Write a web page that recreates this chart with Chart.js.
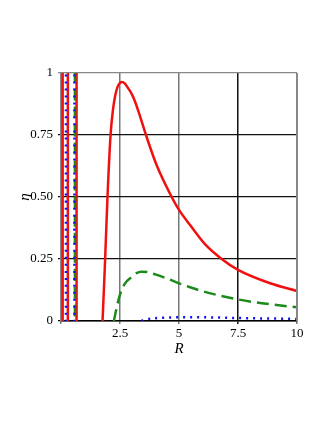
<!DOCTYPE html>
<html><head><meta charset="utf-8">
<script src="https://cdn.jsdelivr.net/npm/chart.js@4"></script>
<style>html,body{margin:0;padding:0;background:#fff}#wrap{width:327px;height:423px}</style>
</head><body><div id="wrap"><canvas id="c" width="327" height="423"></canvas></div>
<script>
const xTickLabels = {2.5:'2.5', 5:'5', 7.5:'7.5', 10:'10'};
const yTickLabels = {0:'0', 0.25:'0.25', 0.5:'0.50', 0.75:'0.75', 1:'1'};
const redX = [1.76, 1.85, 1.97, 2.1, 2.2, 2.3, 2.4, 2.5, 2.58, 2.7, 2.85, 3.0, 3.14, 3.35, 3.6, 4.05, 4.69, 5.0, 5.47, 6.1, 6.81, 7.5, 8.86, 10.0];
const redY = [0, 0.2, 0.5, 0.75, 0.85, 0.91, 0.945, 0.96, 0.964, 0.958, 0.938, 0.915, 0.884, 0.825, 0.75, 0.629, 0.5, 0.448, 0.387, 0.31, 0.25, 0.206, 0.152, 0.121];
const greenX = [2.24, 2.35, 2.48, 2.7, 3.0, 3.2, 3.4, 3.7, 4.0, 4.5, 5.0, 5.5, 6.0, 6.75, 7.5, 8.25, 9.0, 10.0];
const greenY = [0, 0.05, 0.1, 0.15, 0.178, 0.193, 0.199, 0.197, 0.188, 0.171, 0.152, 0.135, 0.12, 0.102, 0.087, 0.075, 0.066, 0.055];
const blueX = [3.41, 3.6, 4.0, 4.5, 5.0, 6.0, 7.0, 8.0, 9.0, 10.0];
const blueY = [0, 0.006, 0.011, 0.014, 0.015, 0.015, 0.013, 0.011, 0.01, 0.008];
const redSpikeX = [0.07, 0.29, 0.66];
const greenSpikeX = [0.59];
const blueSpikeX = [0.21, 0.57];

const pts = (xs, ys) => xs.map((x, i) => ({x, y: ys[i]}));
const spike = x => [{x, y: -0.2}, {x, y: 1.2}];
const base = {showLine: true, pointRadius: 0, fill: false, tension: 0.4, cubicInterpolationMode: 'monotone'};
const datasets = [];
blueSpikeX.forEach(x => datasets.push({...base, data: spike(x), borderColor: '#1010ee', borderWidth: 2.5, borderDash: [2, 5], tension: 0}));
greenSpikeX.forEach(x => datasets.push({...base, data: spike(x), borderColor: '#1a8a1a', borderWidth: 2.5, borderDash: [12, 6], tension: 0}));
redSpikeX.forEach(x => datasets.push({...base, data: spike(x), borderColor: '#f01010', borderWidth: 2.5, tension: 0}));
datasets.push({...base, data: pts(blueX, blueY), borderColor: '#1010ee', borderWidth: 2.5, borderDash: [2, 5]});
datasets.push({...base, data: pts(greenX, greenY), borderColor: '#1a8a1a', borderWidth: 2.5, borderDash: [12, 6]});
datasets.push({...base, data: pts(redX, redY), borderColor: '#f01010', borderWidth: 2.5});

new Chart(document.getElementById('c'), {
  type: 'scatter',
  data: {datasets},
  options: {
    responsive: false, animation: false,
    layout: {padding: {top: 73, right: 30, left: 0, bottom: 65}},
    plugins: {legend: {display: false}, tooltip: {enabled: false}},
    scales: {
      x: {
        type: 'linear', min: 0, max: 10,
        afterFit: s => { s.height = 37; },
        border: {display: true, color: '#000', width: 1.5},
        grid: {color: c => (c.tick && c.tick.value === 7.5) ? '#111' : '#777', lineWidth: 1.5, tickLength: 3},
        ticks: {stepSize: 2.5, autoSkip: false, maxRotation: 0, padding: 2, color: '#000',
          font: {family: 'Liberation Serif', size: 13},
          callback: v => xTickLabels[v] || ''},
        title: {display: true, text: 'R', color: '#000', padding: 0,
          font: {family: 'Liberation Serif', size: 15, style: 'italic'}}
      },
      y: {
        type: 'linear', min: 0, max: 1,
        afterFit: s => { s.width = 61; },
        border: {display: true, color: '#888', width: 2},
        grid: {color: c => (c.tick && (c.tick.value === 1)) ? '#888' : '#111', lineWidth: 1.2, tickLength: 3},
        ticks: {stepSize: 0.25, autoSkip: false, padding: 5, color: '#000',
          font: {family: 'Liberation Serif', size: 13},
          callback: v => yTickLabels[v] !== undefined ? yTickLabels[v] : ''},
        title: {display: true, text: 'η', color: '#000', padding: {top: 16, bottom: 0},
          font: {family: 'Liberation Serif', size: 15, style: 'italic'}}
      }
    }
  },
  plugins: [{
    id: 'rightBorder',
    afterDraw(chart) {
      const {ctx, chartArea: a} = chart;
      ctx.save();
      ctx.strokeStyle = '#888'; ctx.lineWidth = 2;
      ctx.beginPath(); ctx.moveTo(a.right, a.top); ctx.lineTo(a.right, a.bottom); ctx.stroke();
      ctx.restore();
    }
  }]
});
</script></body></html>
